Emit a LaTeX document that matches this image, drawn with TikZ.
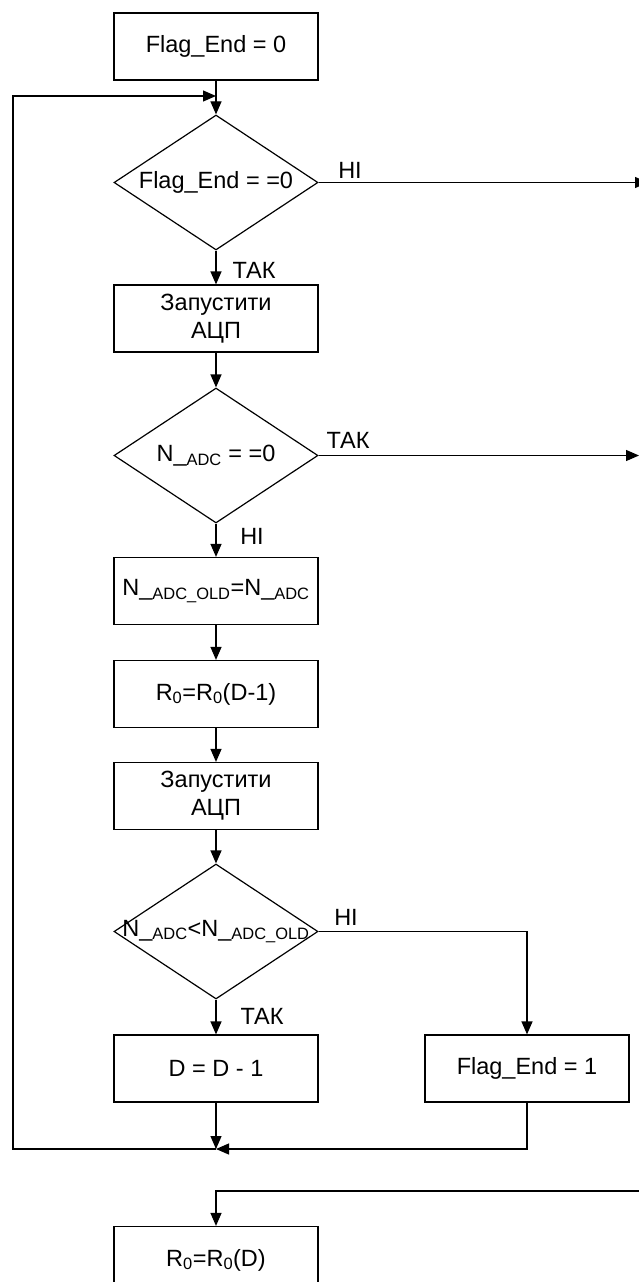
\documentclass[tikz,border=0pt]{standalone}
\usepackage{fontspec}
\setmainfont{Liberation Sans}
\usetikzlibrary{arrows.meta,shapes.geometric}
\begin{document}
\begin{tikzpicture}[x=1pt,y=-1pt,
  font=\fontsize{23.5}{28}\selectfont,
  line width=1.2pt,
  box/.style={draw, minimum width=204pt, minimum height=67pt, inner sep=0pt, align=center},
  dia/.style={draw, diamond, minimum width=204pt, minimum height=135pt, inner sep=0pt},
  arr/.style={-{Triangle[length=13pt,width=11pt]}},
  lbl/.style={inner sep=0pt}]
\useasboundingbox (0,0) rectangle (639,1282);

\node[box] (start) at (216,46.5) {Flag\_End = 0};
\node[dia, label={[lbl]center:Flag\_End = =0}] (d1) at (216,182.5) {};
\node[box] (adc1) at (216,318.5) {Запустити\\АЦП};
\node[dia, label={[lbl]center:N\_\textsubscript{ADC} = =0}] (d2) at (216,455.5) {};
\node[box] (old) at (216,591) {N\_\textsubscript{ADC\_OLD}=N\_\textsubscript{ADC}};
\node[box] (r0) at (216,694) {R\textsubscript{0}=R\textsubscript{0}(D-1)};
\node[box] (adc2) at (216,796) {Запустити\\АЦП};
\node[dia, label={[lbl]center:N\_\textsubscript{ADC}<N\_\textsubscript{ADC\_OLD}}] (d3) at (216,931.5) {};
\node[box] (dec) at (216,1068.5) {D = D - 1};
\node[box] (fe1) at (527,1068.5) {Flag\_End = 1};
\node[box] (fin) at (216,1260) {R\textsubscript{0}=R\textsubscript{0}(D)};

\node[lbl] (l1) at (350,170) {НІ};
\node[lbl] (l2) at (254,270) {ТАК};
\node[lbl] (l3) at (348,440) {ТАК};
\node[lbl] (l4) at (252,536) {НІ};
\node[lbl] (l5) at (346,917) {НІ};
\node[lbl] (l6) at (262,1016) {ТАК};

\coordinate (jtop) at (216,96);
\coordinate (jbot) at (216,1149);
\coordinate (lc) at (13,96);
\coordinate (e1) at (648,182.5);
\coordinate (e2) at (639,455.5);
\coordinate (e3) at (639,1191);

\draw[arr] (start) -- (d1);
\draw[arr] (jbot) -| (lc) -- (jtop);
\draw[arr] (d1) -- (adc1);
\draw[arr] (d1.east) -- (e1);
\draw[arr] (adc1) -- (d2);
\draw[arr] (d2.east) -- (e2);
\draw[arr] (d2) -- (old);
\draw[arr] (old) -- (r0);
\draw[arr] (r0) -- (adc2);
\draw[arr] (adc2) -- (d3);
\draw[arr] (d3.east) -| (fe1.north);
\draw[arr] (d3) -- (dec);
\draw[arr] (dec) -- (jbot);
\draw[arr] (fe1.south) |- (jbot);
\draw[arr] (e3) -| (fin.north);
\end{tikzpicture}
\end{document}
